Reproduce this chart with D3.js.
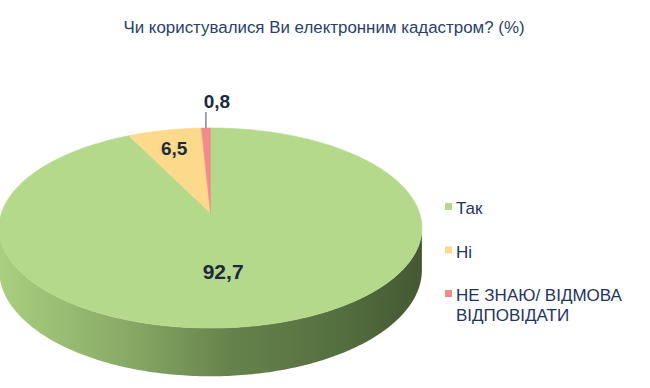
<!DOCTYPE html>
<html>
<head>
<meta charset="utf-8">
<script src="https://cdn.jsdelivr.net/npm/d3@7"></script>
<style>
  html, body { margin: 0; padding: 0; background: #ffffff; }
  svg { display: block; }
</style>
</head>
<body>
<svg id="chart" width="650" height="388"></svg>
<script>
// ---- data ----
const title = "Чи користувалися Ви електронним кадастром? (%)";
const categories = ["Так", "Ні", "НЕ ЗНАЮ/ ВІДМОВА ВІДПОВІДАТИ"];
const legendLines = [["Так"], ["Ні"], ["НЕ ЗНАЮ/ ВІДМОВА", "ВІДПОВІДАТИ"]];
const values = [92.7, 6.5, 0.8];
const valueLabels = ["92,7", "6,5", "0,8"];

// ---- style ----
const topColors = ["#b4d98b", "#fcd98b", "#f28c8c"];
const svg = d3.select("#chart");

// perspective projection of the pie disk
const cx = 210.5, cy = 213, rx = 209, ry = 97.8, e = 0.15, T = 41;
function proj(phi, r) {
  // phi: clockwise from 12 o'clock (back of disk); r: 0..1
  const X = Math.sin(phi) * r, Z = -Math.cos(phi) * r; // Z>0 toward viewer
  const w = 1 - e * Z;
  return [cx + rx * X / w, cy + ry * Z / w, w];
}
function projBottom(phi) {
  const p = proj(phi, 1);
  return [p[0], p[1] + T / p[2]];
}

const pie = d3.pie().sort(null).value(d => d)(values);

// gradient for side wall
const defs = svg.append("defs");
const grad = defs.append("linearGradient").attr("id", "sideGrad")
  .attr("x1", "0%").attr("x2", "100%").attr("y1", "0%").attr("y2", "0%");
[["0%", "#a9cf7f"], ["30%", "#88aa66"], ["55%", "#66824c"], ["80%", "#55703f"], ["100%", "#455733"]]
  .forEach(([o, c]) => grad.append("stop").attr("offset", o).attr("stop-color", c));

// side wall (front half, between silhouette points)
const phiR = Math.acos(-e), phiL = 2 * Math.PI - Math.acos(-e);
const N = 200;
const sidePts = [];
for (let i = 0; i <= N; i++) {
  const p = proj(phiR + (phiL - phiR) * i / N, 1);
  sidePts.push([p[0], p[1]]);
}
for (let i = N; i >= 0; i--) {
  sidePts.push(projBottom(phiR + (phiL - phiR) * i / N));
}
svg.append("path")
  .attr("d", d3.line()(sidePts) + "Z")
  .attr("fill", "url(#sideGrad)");

// top faces
pie.forEach((s, i) => {
  const pts = [proj(0, 0).slice(0, 2)];
  const n = Math.max(4, Math.ceil((s.endAngle - s.startAngle) / 0.01));
  for (let k = 0; k <= n; k++) {
    const a = s.startAngle + (s.endAngle - s.startAngle) * k / n;
    pts.push(proj(a, 1).slice(0, 2));
  }
  svg.append("path")
    .attr("d", d3.line()(pts) + "Z")
    .attr("fill", topColors[i])
    .attr("stroke", topColors[i])
    .attr("stroke-width", 0.6);
});

// value labels
const labelFont = "'Liberation Sans', Arial, sans-serif";
const labelCfg = [
  { r: 0.5, dx: -13, dy: 15, size: 21 },
  { r: 0.72, dx: -2, dy: 4, size: 19 },
  { outside: true, size: 19 }
];
pie.forEach((s, i) => {
  const mid = (s.startAngle + s.endAngle) / 2;
  const cfg = labelCfg[i];
  if (cfg.outside) {
    const p = proj(mid, 1);
    svg.append("line")
      .attr("x1", p[0]).attr("x2", p[0])
      .attr("y1", p[1]).attr("y2", p[1] - 16)
      .attr("stroke", "#404a55").attr("stroke-width", 1);
    svg.append("text")
      .attr("x", p[0] + 11).attr("y", p[1] - 20)
      .attr("text-anchor", "middle")
      .attr("font-family", labelFont).attr("font-weight", "bold")
      .attr("font-size", cfg.size).attr("fill", "#1c2a3c")
      .text(valueLabels[i]);
  } else {
    const p = proj(mid, cfg.r);
    svg.append("text")
      .attr("x", p[0] + cfg.dx).attr("y", p[1] + cfg.dy)
      .attr("text-anchor", "middle")
      .attr("font-family", labelFont).attr("font-weight", "bold")
      .attr("font-size", cfg.size).attr("fill", "#1c2a3c")
      .text(valueLabels[i]);
  }
});

// title
svg.append("text")
  .attr("x", 324).attr("y", 33)
  .attr("text-anchor", "middle")
  .attr("font-family", labelFont)
  .attr("font-size", 16.9).attr("fill", "#2b3f68")
  .text(title);

// legend
const legY = d3.scalePoint().domain(categories).range([214, 301]);
categories.forEach((c, i) => {
  const y = legY(c);
  svg.append("rect")
    .attr("x", 445).attr("y", y - 11).attr("width", 7).attr("height", 7)
    .attr("fill", topColors[i]);
  legendLines[i].forEach((line, j) => {
    svg.append("text")
      .attr("x", 456).attr("y", y + j * 20)
      .attr("font-family", labelFont)
      .attr("font-size", 17).attr("fill", "#1f3460")
      .text(line);
  });
});
</script>
</body>
</html>
